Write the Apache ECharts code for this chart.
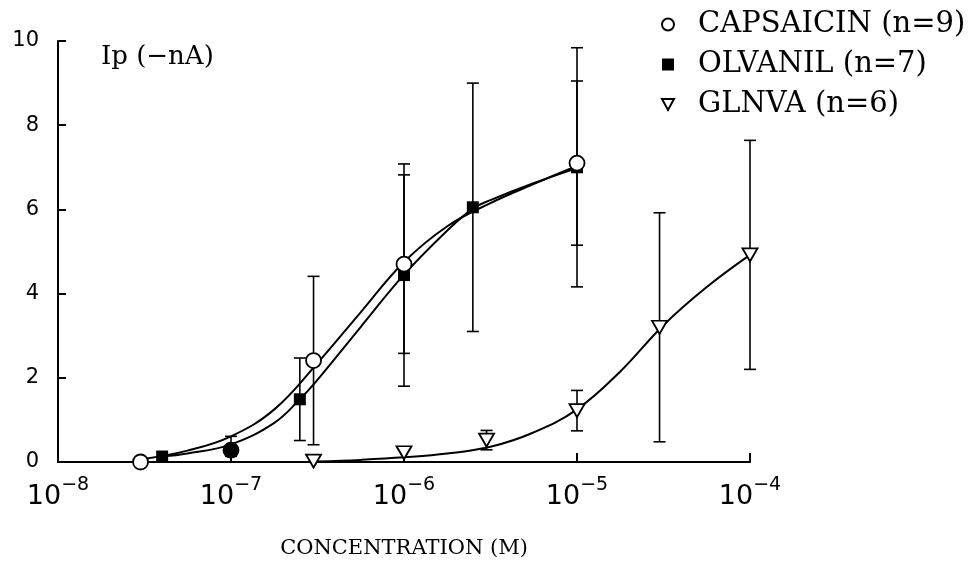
<!DOCTYPE html>
<html><head><meta charset="utf-8">
<script src="https://cdn.jsdelivr.net/npm/echarts@6/dist/echarts.min.js"></script>
<style>html,body{margin:0;padding:0;background:#fff}#c{width:978px;height:564px}</style>
</head><body><div id="c"></div>
<script>
// Measured points: concentration (M), Ip (-nA), error (SEM)
const capsName = 'CAPSAICIN (n=9)';
const capsConc = [3e-8, 1e-7, 3e-7, 1e-6, 1e-5];
const capsIp   = [0.0, 0.28, 2.41, 4.70, 7.10];
const capsErr  = [0, 0.33, 2.0, 2.12, 1.95];

const olvName = 'OLVANIL (n=7)';
const olvConc = [4e-8, 1e-7, 2.5e-7, 1e-6, 2.5e-6, 1e-5];
const olvIp   = [0.13, 0.26, 1.49, 4.44, 6.05, 7.0];
const olvErr  = [0, 0, 0.98, 2.64, 2.95, 2.84];

const glnName = 'GLNVA (n=6)';
const glnConc = [3e-7, 1e-6, 3e-6, 1e-5, 3e-5, 1e-4];
const glnIp   = [0.02, 0.22, 0.52, 1.22, 3.20, 4.92];
const glnErr  = [0, 0, 0.23, 0.48, 2.72, 2.72];

// Fitted curves, values
const capsCurveConc = [3e-8, 5.6e-8, 1e-7, 1.78e-7, 3.16e-7, 5.6e-7, 1e-6, 1.78e-6, 3.16e-6, 5.6e-6, 1e-5];
const capsCurveIp   = [0.06, 0.27, 0.61, 1.25, 2.35, 3.55, 4.75, 5.6, 6.15, 6.6, 7.03];

const olvCurveConc = [4e-8, 5.6e-8, 1e-7, 1.78e-7, 2.5e-7, 3.16e-7, 5.6e-7, 1e-6, 1.78e-6, 2.5e-6, 3.16e-6, 5.6e-6, 1e-5];
const olvCurveIp   = [0.13, 0.2, 0.42, 0.93, 1.49, 1.95, 3.2, 4.45, 5.5, 6.02, 6.22, 6.62, 6.98];

const glnCurveConc = [3.16e-7, 5.6e-7, 1e-6, 1.78e-6, 3.16e-6, 5.6e-6, 1e-5, 1.78e-5, 3.16e-5, 5.6e-5, 1e-4];
const glnCurveIp   = [0.01, 0.05, 0.11, 0.2, 0.36, 0.7, 1.25, 2.15, 3.25, 4.15, 4.92];

const yAxisTitle = 'Ip (\u2212nA)';
const xAxisTitle = 'CONCENTRATION (M)';

const TRI = 'path://M0,0L10,0L5,9Z';
const SQ = 'path://M0,0L10,0L10,10L0,10Z';

function zip(xs, ys) { return xs.map((x, i) => [x, ys[i]]); }
function zip3(xs, ys, es) { return xs.map((x, i) => [x, ys[i], es[i]]); }

function errorSeries(name, data) {
  return {
    type: 'custom', name: name + ' err', z: 1, silent: true,
    data: data,
    renderItem: function (params, api) {
      const x = api.value(0), y = api.value(1), e = api.value(2);
      if (!e) return null;
      const lo = Math.max(0, y - e), hi = y + e;
      const pTop = api.coord([x, hi]);
      const pBot = api.coord([x, lo]);
      const w = 6;
      const style = { stroke: '#000', lineWidth: 1.6 };
      const children = [
        { type: 'line', shape: { x1: pTop[0], y1: pTop[1], x2: pBot[0], y2: pBot[1] }, style: style },
        { type: 'line', shape: { x1: pTop[0] - w, y1: pTop[1], x2: pTop[0] + w, y2: pTop[1] }, style: style }
      ];
      if (y - e > 0) children.push({ type: 'line', shape: { x1: pBot[0] - w, y1: pBot[1], x2: pBot[0] + w, y2: pBot[1] }, style: style });
      return { type: 'group', children: children };
    }
  };
}

function curveSeries(name, data) {
  return {
    type: 'line', name: name + ' fit', data: data, smooth: 0.4, showSymbol: false, z: 2,
    silent: true, lineStyle: { color: '#000', width: 2 }
  };
}

const capsPoints = zip(capsConc, capsIp).map((p, i) => capsConc[i] === 1e-7 ? { value: p, itemStyle: { color: '#000' } } : p);

const chart = echarts.init(document.getElementById('c'), null, { renderer: 'canvas' });
chart.setOption({
  animation: false,
  backgroundColor: '#fff',
  title: {
    text: yAxisTitle, left: 96, top: 39,
    textStyle: { fontFamily: 'DejaVu Serif', fontSize: 26, fontWeight: 'normal', color: '#000' }
  },
  legend: {
    left: 656, top: 5, orient: 'vertical', itemWidth: 12, itemHeight: 12, itemGap: 11,
    data: [
      { name: capsName, icon: 'circle' },
      { name: olvName, icon: SQ },
      { name: glnName, icon: TRI }
    ],
    formatter: n => '{a|' + n + '}',
    textStyle: {
      color: '#000', fontFamily: 'DejaVu Serif', fontSize: 29, lineHeight: 28,
      rich: { a: { padding: [0, 0, 0, 19], fontFamily: 'DejaVu Serif', fontSize: 29, color: '#000' } }
    }
  },
  grid: { left: 58, right: 228, top: 41, bottom: 100, containLabel: false },
  xAxis: {
    type: 'log', logBase: 10, min: 1e-8, max: 1e-4,
    name: xAxisTitle, nameLocation: 'middle', nameGap: 76,
    nameTextStyle: { fontFamily: 'DejaVu Serif', fontSize: 21, color: '#000' },
    axisLine: { lineStyle: { color: '#000', width: 2 } },
    axisTick: { inside: true, length: 9, lineStyle: { color: '#000', width: 2 } },
    splitLine: { show: false }, minorTick: { show: false },
    axisLabel: {
      margin: 14, color: '#000',
      formatter: v => '{b|10}{s|\u2212' + (-Math.round(Math.log10(v))) + '}',
      rich: {
        b: { fontFamily: 'DejaVu Sans', fontSize: 27, color: '#000', lineHeight: 34, verticalAlign: 'bottom' },
        s: { fontFamily: 'DejaVu Sans', fontSize: 19, color: '#000', lineHeight: 34, verticalAlign: 'top', padding: [0, 0, 10, 0] }
      }
    }
  },
  yAxis: {
    type: 'value', min: 0, max: 10, interval: 2,
    axisLine: { lineStyle: { color: '#000', width: 2 } },
    axisTick: { inside: true, length: 8, lineStyle: { color: '#000', width: 2 } },
    splitLine: { show: false },
    axisLabel: { margin: 19, color: '#000', fontFamily: 'DejaVu Sans', fontSize: 21 }
  },
  series: [
    errorSeries(capsName, zip3(capsConc, capsIp, capsErr)),
    errorSeries(olvName, zip3(olvConc, olvIp, olvErr)),
    errorSeries(glnName, zip3(glnConc, glnIp, glnErr)),
    curveSeries(capsName, zip(capsCurveConc, capsCurveIp)),
    curveSeries(olvName, zip(olvCurveConc, olvCurveIp)),
    curveSeries(glnName, zip(glnCurveConc, glnCurveIp)),
    {
      type: 'scatter', name: olvName, data: zip(olvConc, olvIp), symbol: SQ, symbolSize: 12, z: 3,
      itemStyle: { color: '#000', borderColor: '#000', borderWidth: 0, opacity: 1 }
    },
    {
      type: 'scatter', name: capsName, data: capsPoints, symbol: 'circle', symbolSize: 15, z: 3,
      itemStyle: { color: '#fff', borderColor: '#000', borderWidth: 1.8, opacity: 1 }
    },
    {
      type: 'scatter', name: glnName, data: zip(glnConc, glnIp), symbol: TRI, symbolSize: [15, 13], z: 3,
      itemStyle: { color: '#fff', borderColor: '#000', borderWidth: 1.8, opacity: 1 }
    }
  ]
});
</script>
</body></html>
